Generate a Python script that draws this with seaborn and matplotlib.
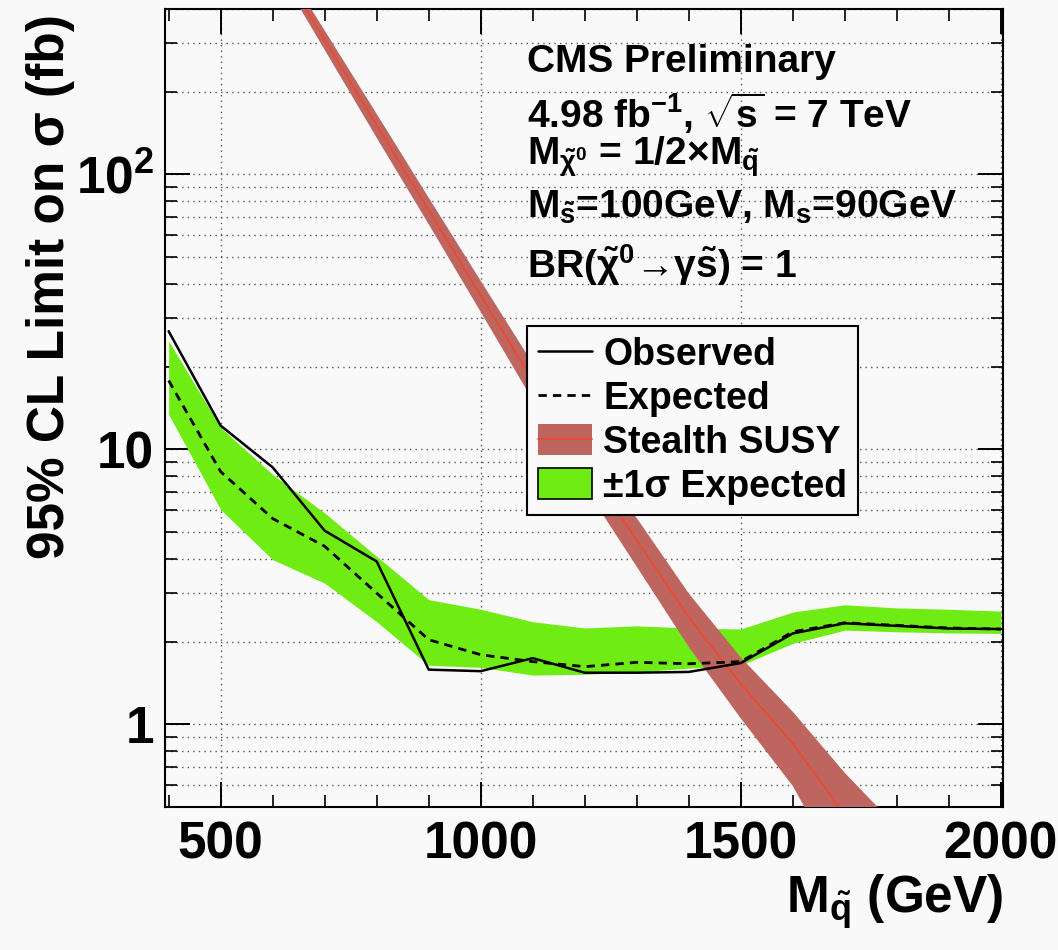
import numpy as np
import pandas as pd
import matplotlib
matplotlib.use("Agg")
import matplotlib.pyplot as plt
import seaborn as sns
from matplotlib.ticker import FixedLocator, FixedFormatter, MultipleLocator, LogLocator, NullFormatter
from matplotlib.patches import Patch
from matplotlib.lines import Line2D

# ---------------- data ----------------
mass = [400, 500, 600, 700, 800, 900, 1000, 1100, 1200, 1300, 1400,
        1500, 1600, 1700, 1800, 1900, 2000]
observed = [26.9, 12.2, 8.6, 5.06, 3.91, 1.58, 1.56, 1.74, 1.54, 1.54, 1.55,
            1.67, 2.14, 2.33, 2.28, 2.23, 2.22]
expected = [17.8, 8.3, 5.6, 4.44, 3.0, 2.03, 1.79, 1.69, 1.62, 1.68, 1.66,
            1.69, 2.17, 2.34, 2.29, 2.24, 2.22]
band_up = [24.8, 12.0, 8.1, 5.87, 4.08, 2.84, 2.62, 2.36, 2.24, 2.28, 2.24,
           2.22, 2.56, 2.72, 2.65, 2.62, 2.58]
band_down = [13.4, 6.04, 3.97, 3.26, 2.36, 1.64, 1.61, 1.51, 1.52, 1.55, 1.60,
             1.64, 1.97, 2.20, 2.17, 2.15, 2.14]

theory_mass = [600, 700, 800, 900, 1000, 1100, 1200, 1300, 1400, 1500, 1600, 1700, 1800]
theory_xsec = [631, 309, 151, 74.1, 36.3, 17.8, 8.91, 4.68, 2.45, 1.40, 0.851, 0.468, 0.282]
theory_up = [669, 334, 166, 82.3, 41.0, 20.5, 10.5, 5.62, 2.99, 1.75, 1.11, 0.665, 0.423]
theory_down = [593, 284, 136, 65.9, 31.6, 15.1, 7.31, 3.74, 1.91, 1.05, 0.596, 0.271, 0.141]

ytick_vals = [1, 10, 100]
ytick_labels = ["1", "10", "$10^{2}$"]

legend_labels = ["Observed", "Expected", "Stealth SUSY", "±1σ Expected"]
info_lines = [
    "CMS Preliminary",
    r"4.98 fb$^{-1}$, $\sqrt{s}$ = 7 TeV",
    r"M$_{\tilde{\chi}^{0}}$ = 1/2×M$_{\tilde{q}}$",
    r"M$_{\tilde{s}}$=100GeV, M$_{s}$=90GeV",
    r"BR($\tilde{\chi}^{0}$→γ$\tilde{s}$) = 1",
]

# ---------------- style ----------------
BG = "#f9f9f9"
GREEN = "#6fec14"
RED_FILL = "#bf6560"
RED_LINE = "#ea4a2e"

sns.set_theme(style="ticks")
plt.rcParams.update({
    "font.family": ["Liberation Sans", "DejaVu Sans"],
    "font.weight": "bold",
    "mathtext.fontset": "custom",
    "mathtext.rm": "Liberation Sans:bold",
    "mathtext.it": "Liberation Sans:bold",
    "mathtext.bf": "Liberation Sans:bold",
    "mathtext.sf": "Liberation Sans:bold",
    "figure.facecolor": BG,
    "axes.facecolor": BG,
    "savefig.facecolor": BG,
    "axes.edgecolor": "black",
    "axes.labelcolor": "black",
    "text.color": "black",
    "xtick.color": "black",
    "ytick.color": "black",
})

df = pd.DataFrame({"mass": mass, "observed": observed, "expected": expected,
                   "up": band_up, "down": band_down})
dft = pd.DataFrame({"mass": theory_mass, "xsec": theory_xsec,
                    "up": theory_up, "down": theory_down})

fig = plt.figure(figsize=(10.58, 9.5), dpi=100)
ax = fig.add_axes([165 / 1058, 1 - 807 / 950, 838 / 1058, 798 / 950])

ax.fill_between(df["mass"], df["down"], df["up"], color=GREEN, lw=0, zorder=2)
ax.fill_between(dft["mass"], dft["down"], dft["up"], color=RED_FILL, lw=0, zorder=3)
sns.lineplot(data=dft, x="mass", y="xsec", ax=ax, color=RED_LINE, lw=1.3, zorder=4)
sns.lineplot(data=df, x="mass", y="expected", ax=ax, color="black", lw=2.0,
             linestyle=(0, (3, 2.2)), zorder=5)
sns.lineplot(data=df, x="mass", y="observed", ax=ax, color="black", lw=1.8, zorder=6)

ax.set_yscale("log")
ax.set_xlim(393, 2004)
ax.set_ylim(0.5, 400)

# ticks
ax.xaxis.set_major_locator(MultipleLocator(500))
ax.xaxis.set_minor_locator(MultipleLocator(100))
ax.yaxis.set_major_locator(FixedLocator(ytick_vals))
ax.yaxis.set_major_formatter(FixedFormatter(ytick_labels))
ax.yaxis.set_minor_locator(LogLocator(base=10, subs=np.arange(2, 10)))
ax.yaxis.set_minor_formatter(NullFormatter())
ax.tick_params(which="both", direction="in", top=True, right=True)
ax.tick_params(which="major", length=18, width=1.4, labelsize=37)
ax.tick_params(which="minor", length=8.5, width=1.2)
ax.tick_params(axis="x", which="major", pad=10)
ax.tick_params(axis="y", which="major", pad=8)
for lab in ax.get_xticklabels() + ax.get_yticklabels():
    lab.set_fontweight("bold")

for s in ax.spines.values():
    s.set_linewidth(1.5)
    s.set_color("black")

# grid
gkw = dict(color="#555555", linestyle=(0, (1, 3)), linewidth=1.0)
ax.grid(axis="x", which="major", **gkw)
ax.grid(axis="y", which="both", **gkw)
ax.set_axisbelow(True)

# axis titles
ax.set_xlabel(r"M$_{\tilde{q}}$ (GeV)", fontsize=37, fontweight="bold", loc="right")
ax.set_ylabel("95% CL Limit on σ (fb)", fontsize=37, fontweight="bold", loc="top")
ax.xaxis.set_label_coords(1.0, -0.082)
ax.yaxis.set_label_coords(-0.107, 0.993)

# info text
info_y = [0.921, 0.851, 0.805, 0.738, 0.663]
for t, yy in zip(info_lines, info_y):
    ax.text(0.432, yy, t, transform=ax.transAxes, fontsize=28, fontweight="bold",
            ha="left", va="baseline", zorder=8)

# legend
handles = [
    Line2D([], [], color="black", lw=1.8),
    Line2D([], [], color="black", lw=2.0, linestyle=(0, (3, 2.2))),
    (Patch(facecolor=RED_FILL, edgecolor="none"), Line2D([], [], color=RED_LINE, lw=1.3)),
    Patch(facecolor=GREEN, edgecolor="black", lw=1.2),
]
leg = ax.legend(handles, legend_labels, loc="upper left", bbox_to_anchor=(0.432, 0.603),
                frameon=True, fancybox=False, framealpha=1, facecolor=BG, edgecolor="black",
                prop={"size": 27, "weight": "bold"}, handlelength=1.45, handleheight=0.9,
                handletextpad=0.3, borderpad=0.28, labelspacing=0.2, borderaxespad=0)
leg.get_frame().set_linewidth(1.5)
leg.set_zorder(10)

fig.savefig("out.png", dpi=100)
